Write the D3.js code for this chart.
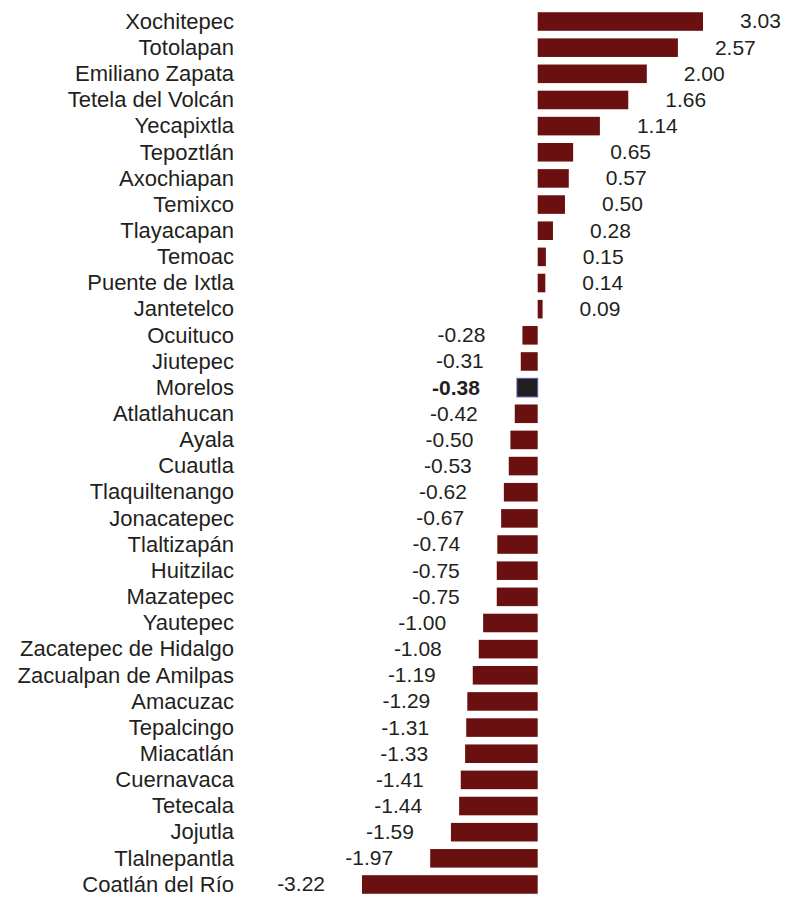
<!DOCTYPE html>
<html>
<head>
<meta charset="utf-8">
<script src="https://cdn.jsdelivr.net/npm/d3@7"></script>
<style>
  body { margin: 0; background: #fff; }
  text { font-family: "Liberation Sans", Arial, sans-serif; fill: #231f20; }
</style>
</head>
<body>
<svg id="chart" width="799" height="898"></svg>
<script>
// municipalities, top to bottom
var municipios = ['Xochitepec', 'Totolapan', 'Emiliano Zapata', 'Tetela del Volcán', 'Yecapixtla',
    'Tepoztlán', 'Axochiapan', 'Temixco', 'Tlayacapan', 'Temoac', 'Puente de Ixtla', 'Jantetelco',
    'Ocuituco', 'Jiutepec', 'Morelos', 'Atlatlahucan', 'Ayala', 'Cuautla', 'Tlaquiltenango',
    'Jonacatepec', 'Tlaltizapán', 'Huitzilac', 'Mazatepec', 'Yautepec', 'Zacatepec de Hidalgo',
    'Zacualpan de Amilpas', 'Amacuzac', 'Tepalcingo', 'Miacatlán', 'Cuernavaca', 'Tetecala',
    'Jojutla', 'Tlalnepantla', 'Coatlán del Río'];
var valores = [3.03, 2.57, 2.00, 1.66, 1.14, 0.65, 0.57, 0.50, 0.28, 0.15, 0.14, 0.09,
    -0.28, -0.31, -0.38, -0.42, -0.50, -0.53, -0.62, -0.67, -0.74, -0.75, -0.75, -1.00,
    -1.08, -1.19, -1.29, -1.31, -1.33, -1.41, -1.44, -1.59, -1.97, -3.22];
// state total gets highlighted
var destacado = 'Morelos';

var data = municipios.map(function (m, i) { return { name: m, value: valores[i] }; });

var svg = d3.select('#chart');

var x = d3.scaleLinear()
    .domain([d3.min(valores), d3.max(valores)])
    .range([362, 703]);

var y = d3.scaleBand()
    .domain(municipios)
    .range([7, 899])
    .paddingInner(0.29)
    .paddingOuter(0.2);

// plain hyphen for negatives, like the original
var fmt = function (v) { return v.toFixed(2); };

var rows = svg.selectAll('g.row')
    .data(data)
    .enter().append('g')
    .attr('class', 'row');

rows.append('rect')
    .attr('x', function (d) { return x(Math.min(0, d.value)); })
    .attr('y', function (d) { return y(d.name); })
    .attr('width', function (d) { return Math.abs(x(d.value) - x(0)); })
    .attr('height', y.bandwidth())
    .attr('fill', function (d) { return d.name === destacado ? '#231f20' : '#6b1010'; })
    .attr('stroke', function (d) { return d.name === destacado ? '#5b5bb5' : 'none'; })
    .attr('stroke-width', 1);

// municipality names
rows.append('text')
    .attr('x', 234)
    .attr('y', function (d) { return y(d.name) + y.bandwidth() / 2; })
    .attr('dy', '0.33em')
    .attr('text-anchor', 'end')
    .style('font-size', '22px')
    .text(function (d) { return d.name; });

// value labels
rows.append('text')
    .attr('x', function (d) { return d.value >= 0 ? x(d.value) + 37 : x(d.value) - 37; })
    .attr('y', function (d) { return y(d.name) + y.bandwidth() / 2; })
    .attr('dy', '0.33em')
    .attr('text-anchor', function (d) { return d.value >= 0 ? 'start' : 'end'; })
    .style('font-size', '21px')
    .style('font-weight', function (d) { return d.name === destacado ? 'bold' : 'normal'; })
    .text(function (d) { return fmt(d.value); });
</script>
</body>
</html>
